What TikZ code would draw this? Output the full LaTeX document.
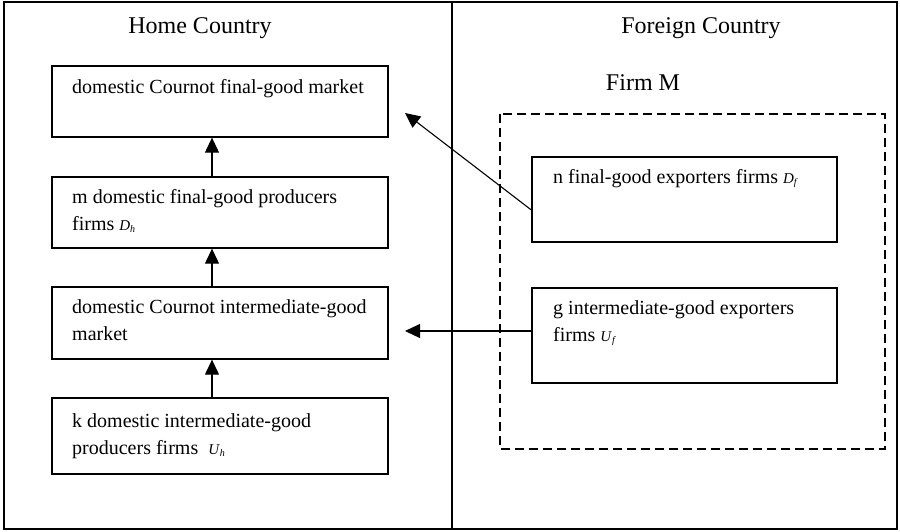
\documentclass[tikz,border=0pt]{standalone}
\usepackage{fontspec}
\setmainfont{Liberation Serif}
\usetikzlibrary{arrows.meta}

% small italic firm symbol with subscript
\newcommand{\firmsym}[2]{{\fontsize{15}{15}\selectfont\textit{#1}\raisebox{-0.3ex}{\fontsize{10}{10}\selectfont\textit{#2}}}}

\begin{document}
\begin{tikzpicture}[x=1pt,y=-1pt,
  box/.style={draw, line width=1.3pt, minimum width=336pt, inner sep=0pt},
  fbox/.style={box, minimum width=305pt},
  txt/.style={anchor=base west, inner sep=0pt, align=left,
    font=\fontsize{20}{27}\selectfont},
  head/.style={anchor=base, inner sep=0pt, font=\fontsize{24}{28}\selectfont},
  flow/.style={line width=1.1pt, -{Triangle[length=15pt,width=14pt]}}]
  \useasboundingbox (0,0) rectangle (900,531);

  % frame and divider
  \draw[line width=1.3pt] (4,2) rectangle (897,529);
  \draw[line width=1.3pt] (452,2) -- (452,529);

  \node[head] (home) at (200,33) {Home Country};
  \node[head] (foreign) at (701,33) {Foreign Country};
  \node[head] (firmm) at (643,90) {Firm M};

  % firm M boundary
  \draw[line width=1.3pt, dash pattern=on 9pt off 5pt] (500,114) rectangle (885,449);

  % home country boxes
  \node[box, minimum height=71pt] (fmarket) at (220,101.5) {};
  \node[box, minimum height=71pt] (dprod) at (220,212.5) {};
  \node[box, minimum height=72pt] (imarket) at (220,323) {};
  \node[box, minimum height=76pt] (uprod) at (220,436) {};

  % foreign country boxes
  \node[fbox, minimum height=85pt] (dexp) at (684.5,199.5) {};
  \node[fbox, minimum height=95pt] (uexp) at (684.5,335.5) {};

  % texts (base = last line)
  \node[txt] (t1) at (72,93) {domestic Cournot final-good market};
  \node[txt] (t2) at (72,230) {m domestic final-good producers\\firms \firmsym{D}{h}};
  \node[txt] (t3) at (72,340) {domestic Cournot intermediate-good\\market};
  \node[txt] (t4) at (72,454) {k domestic intermediate-good\\producers firms\enspace\firmsym{U}{h}};
  \node[txt] (t5) at (553,183) {n final-good exporters firms \firmsym{D}{f}};
  \node[txt] (t6) at (553,341) {g intermediate-good exporters\\firms \firmsym{U}{f}};

  \coordinate (fin) at (405,113);
  \coordinate (inter) at (405,331);

  \draw[flow] ([xshift=-8pt]dprod.north) -- ([xshift=-8pt]fmarket.south);
  \draw[flow] ([xshift=-8pt]imarket.north) -- ([xshift=-8pt]dprod.south);
  \draw[flow] ([xshift=-8pt]uprod.north) -- ([xshift=-8pt]imarket.south);
  \draw[flow] ([yshift=-10.5pt]dexp.west) -- (fin);
  \draw[flow] ([yshift=4.5pt]uexp.west) -- (inter);
\end{tikzpicture}
\end{document}
